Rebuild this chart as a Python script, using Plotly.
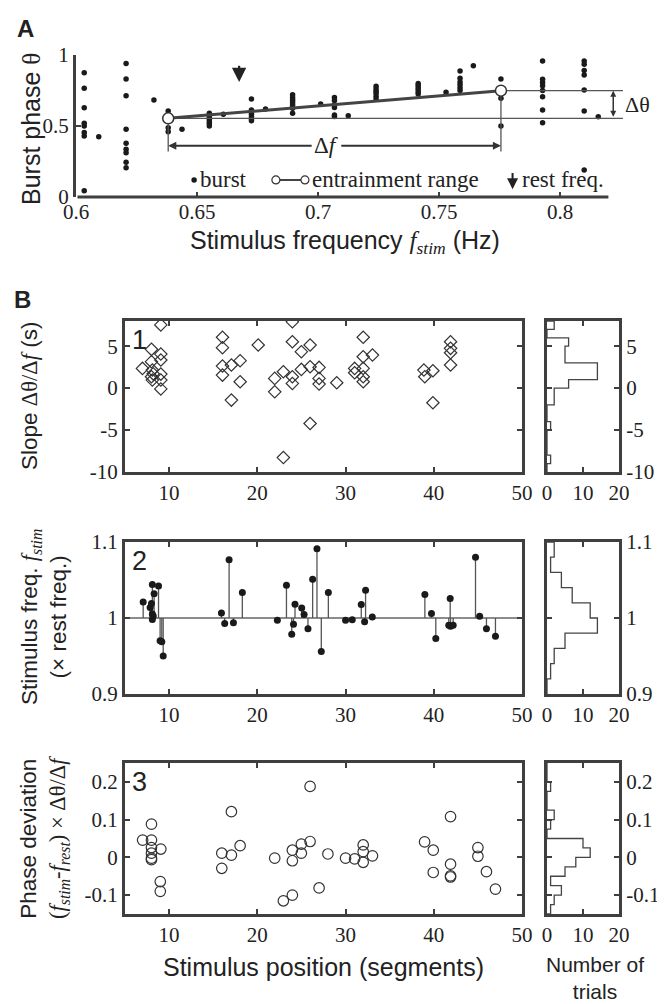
import plotly.graph_objects as go
import numpy as np

# page geometry: the browser body has an 8px margin, so the figure is sized to fit
PAGE_W, PAGE_H, BODY = 665, 1004, 8
W, H = PAGE_W - BODY, PAGE_H - BODY
SANS = "Liberation Sans, Arial, sans-serif"
SERIF = "Liberation Serif, Times New Roman, serif"
AX = "#3f3f3f"
INK = "#1a1a1a"
SER = "<span style='font-family:Liberation Serif'>"

# ---------------- Panel A data ----------------
burst_freq = ([0.6034] * 8 + [0.6094] + [0.6207] * 9 + [0.6322] + [0.6381] * 3 + [0.6438]
              + [0.6551] * 7 + [0.6609] + [0.6725] * 7 + [0.6783] + [0.6895] * 8 + [0.7011]
              + [0.7068] * 6 + [0.7125] + [0.724] * 6 + [0.7414] * 6 + [0.7529] + [0.7587] * 6
              + [0.7642] + [0.7756] * 3 + [0.7928] * 8 + [0.81] * 7 + [0.8158])
burst_phase = ([0.875, 0.765, 0.629, 0.519, 0.50, 0.455, 0.43, 0.044]
               + [0.425]
               + [0.941, 0.831, 0.713, 0.477, 0.378, 0.336, 0.312, 0.244, 0.206]
               + [0.683]
               + [0.606, 0.488, 0.46]
               + [0.477]
               + [0.59, 0.575, 0.56, 0.545, 0.53, 0.515, 0.50]
               + [0.582]
               + [0.69, 0.613, 0.598, 0.583, 0.566, 0.55, 0.537]
               + [0.62]
               + [0.72, 0.70, 0.685, 0.67, 0.655, 0.64, 0.625, 0.589]
               + [0.655]
               + [0.70, 0.68, 0.65, 0.63, 0.577, 0.567]
               + [0.573]
               + [0.78, 0.76, 0.745, 0.73, 0.71, 0.69]
               + [0.80, 0.785, 0.77, 0.755, 0.74, 0.725]
               + [0.737]
               + [0.887, 0.836, 0.81, 0.79, 0.77, 0.75]
               + [0.925]
               + [0.831, 0.695, 0.50]
               + [0.958, 0.83, 0.806, 0.783, 0.75, 0.706, 0.613, 0.523]
               + [0.958, 0.935, 0.89, 0.86, 0.754, 0.606, 0.19]
               + [0.566])
entrain_freq = [0.6381, 0.7756]
entrain_phase = [0.554, 0.749]
rest_freq = 0.6674
df_arrow_phase = 0.361
df_label_freq = 0.7035
drop_phase = 0.32
dtheta_line_end = 0.826
dtheta_arrow_freq = 0.822
a_axis_end = 0.82
a_xticks = [0.6, 0.65, 0.7, 0.75, 0.8]
a_yticks = [0, 0.5, 1]

# ---------------- Panel B1: slope ----------------
slope_pos = [6.98, 8.0, 8.0, 8.1, 8.0, 8.1, 8.2, 9.06, 9.06, 9.06, 9.06, 9.06, 9.06,
             16.05, 16.05, 16.05, 16.05, 17.06, 17.06, 18.05, 18.05, 20.1,
             21.97, 21.97, 22.95, 22.95, 23.97, 23.97, 23.97, 23.97, 24.99, 24.99,
             25.98, 25.98, 25.98, 27.0, 27.0, 27.0, 29.0,
             31.03, 31.03, 32.0, 32.0, 32.0, 32.0, 32.0, 33.05,
             38.88, 38.98, 39.9, 39.9, 41.9, 41.9, 41.9, 41.9]
slope_val = [2.35, 4.62, 3.15, 2.15, 1.35, 0.96, 1.7, 7.53, 4.06, 3.35, 1.67, 0.96, -0.1,
             6.06, 4.82, 2.63, 1.55, 2.75, -1.43, 3.27, 0.76, 5.14,
             1.16, -0.44, 1.95, -8.28, 7.9, 5.53, 1.35, 0.56, 4.34, 2.23,
             5.14, 2.55, -4.22, 2.47, 1.16, 0.48, 0.64,
             2.35, 1.83, 6.06, 3.74, 2.35, 1.35, 0.76, 3.94,
             2.15, 1.35, 2.07, -1.75, 5.53, 4.74, 4.22, 2.75]
slope_bin_edges = list(range(-10, 9))
slope_counts = [0, 1, 0, 0, 0, 1, 0, 0, 2, 2, 6, 14, 14, 5, 5, 6, 0, 2]

# ---------------- Panel B2: stimulus frequency ----------------
freq_pos = [7.06, 7.85, 8.0, 8.1, 8.3, 8.1, 8.2, 8.1, 8.8, 8.98, 9.17, 9.33,
            15.93, 16.3, 16.8, 17.29, 18.3,
            22.27, 23.3, 23.9, 24.1, 24.27, 25.03, 25.3, 25.74, 26.27, 26.76, 27.25, 28.05,
            30.0, 30.76, 31.78, 32.16, 32.27, 33.03,
            38.99, 39.74, 40.23, 41.86, 41.7, 41.9, 42.2, 44.73, 45.2, 45.97, 46.99]
freq_val = [1.021, 1.0137, 1.019, 1.044, 1.032, 1.0054, 1.0027, 0.998, 1.042, 0.970, 0.9687, 0.950,
            1.0066, 0.9926, 1.0768, 0.9937, 1.0334,
            0.997, 1.043, 0.9786, 0.9918, 1.018, 1.013, 1.0045, 0.986, 1.051, 1.091, 0.956, 1.0334,
            0.997, 0.9976, 1.0176, 0.9952, 1.0364, 1.0013,
            1.031, 1.0058, 0.973, 1.0255, 0.9904, 0.989, 0.9904, 1.080, 1.0022, 0.986, 0.976]
freq_baseline = 1.0
freq_bin_edges = [0.90, 0.92, 0.94, 0.96, 0.98, 1.00, 1.02, 1.04, 1.06, 1.08, 1.10]
freq_counts = [0, 1, 2, 5, 14, 12, 7, 4, 1, 2]

# ---------------- Panel B3: phase deviation ----------------
dev_pos = [7.0, 8.0, 8.0, 8.0, 8.0, 8.0, 8.0, 9.06, 9.0, 9.0,
           15.97, 15.97, 17.06, 17.06, 18.05,
           21.97, 22.95, 23.97, 23.97, 23.97, 24.99, 24.99, 25.98, 25.98, 27.0, 28.0,
           30.0, 31.03, 32.0, 32.0, 32.0, 33.05,
           38.96, 39.94, 39.94, 41.9, 41.9, 41.9, 41.9, 45.0, 45.0, 45.97, 46.99]
dev_val = [0.0458, 0.088, 0.0458, 0.026, 0.011, -0.002, -0.006, 0.022, -0.064, -0.09,
           -0.029, 0.011, 0.121, 0.006, 0.031,
           -0.002, -0.115, 0.019, -0.009, -0.1, 0.035, 0.011, 0.188, 0.042, -0.081, 0.009,
           -0.002, -0.004, 0.033, 0.015, -0.013, 0.004,
           0.041, 0.019, -0.04, 0.108, -0.018, -0.049, -0.052, 0.026, 0.003, -0.038, -0.084]
dev_bin_edges = [-0.15, -0.125, -0.1, -0.075, -0.05, -0.025, 0.0, 0.025, 0.05,
                 0.075, 0.1, 0.125, 0.15, 0.175, 0.2, 0.225, 0.25]
dev_counts = [1, 2, 4, 1, 5, 8, 12, 10, 0, 1, 2, 0, 0, 1, 0, 0]

# ---------------- layout geometry (page pixels -> paper) ----------------
def px_x(p):
    return (p - BODY) / W

def px_y(p):
    return 1 - (p - BODY) / H

A_RANGE = [0.6, 0.84]
A_X0, A_PX_PER = 76, 2420
A_DOM_X = [px_x(A_X0), px_x(A_X0 + (A_RANGE[1] - A_RANGE[0]) * A_PX_PER)]
A_DOM_Y = [px_y(197), px_y(55)]
B_MAIN_X = [px_x(125), px_x(522)]
B_HIST_X = [px_x(547), px_x(619)]
B_ROWS_Y = [[px_y(472), px_y(321)], [px_y(694), px_y(542)], [px_y(914), px_y(763)]]

fig = go.Figure()

# ---------------- Panel A traces ----------------
fig.add_trace(go.Scatter(x=burst_freq, y=burst_phase, mode="markers",
                         marker=dict(color=INK, size=5.5), xaxis="x", yaxis="y",
                         hoverinfo="skip"))
for f, th in zip(entrain_freq, entrain_phase):
    fig.add_trace(go.Scatter(x=[f, f], y=[th, drop_phase], mode="lines",
                             line=dict(color="#555", width=1.3), xaxis="x", yaxis="y"))
fig.add_trace(go.Scatter(x=[entrain_freq[0], dtheta_line_end], y=[entrain_phase[0]] * 2,
                         mode="lines", line=dict(color="#555", width=1.1), xaxis="x", yaxis="y"))
fig.add_trace(go.Scatter(x=[entrain_freq[1], dtheta_line_end], y=[entrain_phase[1]] * 2,
                         mode="lines", line=dict(color="#555", width=1.1), xaxis="x", yaxis="y"))
fig.add_trace(go.Scatter(x=entrain_freq, y=entrain_phase, mode="lines+markers",
                         line=dict(color="#444", width=3),
                         marker=dict(symbol="circle", size=11, color="white",
                                     line=dict(color="#333", width=1.5)),
                         xaxis="x", yaxis="y"))

# legend items in panel A
leg_y = 0.12
fig.add_trace(go.Scatter(x=[0.6488], y=[leg_y], mode="markers",
                         marker=dict(color=INK, size=5.5), xaxis="x", yaxis="y"))
fig.add_trace(go.Scatter(x=[0.6826, 0.6946], y=[leg_y, leg_y], mode="lines+markers",
                         line=dict(color="#444", width=2),
                         marker=dict(symbol="circle", size=8, color="white",
                                     line=dict(color="#333", width=1.2)),
                         xaxis="x", yaxis="y"))

# ---------------- Panel B traces ----------------
def hist_path(edges, counts):
    xs, ys = [0], [edges[0]]
    for i, c in enumerate(counts):
        xs += [c, c]
        ys += [edges[i], edges[i + 1]]
    xs.append(0)
    ys.append(edges[-1])
    return xs, ys

# B1
fig.add_trace(go.Scatter(x=slope_pos, y=slope_val, mode="markers",
                         marker=dict(symbol="diamond-open", size=9.5, color="#333",
                                     line=dict(width=1.2)),
                         xaxis="x2", yaxis="y2"))
hx, hy = hist_path(slope_bin_edges, slope_counts)
fig.add_trace(go.Scatter(x=hx, y=hy, mode="lines", line=dict(color="#444", width=1.3),
                         xaxis="x3", yaxis="y3"))

# B2
stem_x, stem_y = [], []
for p, v in zip(freq_pos, freq_val):
    stem_x += [p, p, None]
    stem_y += [freq_baseline, v, None]
fig.add_trace(go.Scatter(x=[5, 50], y=[freq_baseline, freq_baseline], mode="lines",
                         line=dict(color="#666", width=1.3), xaxis="x4", yaxis="y4"))
fig.add_trace(go.Scatter(x=stem_x, y=stem_y, mode="lines",
                         line=dict(color="#555", width=1.3), xaxis="x4", yaxis="y4"))
fig.add_trace(go.Scatter(x=freq_pos, y=freq_val, mode="markers",
                         marker=dict(color=INK, size=7), xaxis="x4", yaxis="y4"))
hx, hy = hist_path(freq_bin_edges, freq_counts)
fig.add_trace(go.Scatter(x=hx, y=hy, mode="lines", line=dict(color="#444", width=1.3),
                         xaxis="x5", yaxis="y5"))

# B3
fig.add_trace(go.Scatter(x=dev_pos, y=dev_val, mode="markers",
                         marker=dict(symbol="circle-open", size=10.5, color="#333",
                                     line=dict(width=1.2)),
                         xaxis="x6", yaxis="y6"))
hx, hy = hist_path(dev_bin_edges, dev_counts)
fig.add_trace(go.Scatter(x=hx, y=hy, mode="lines", line=dict(color="#444", width=1.3),
                         xaxis="x7", yaxis="y7"))

# ---------------- axes ----------------
tickfont = dict(family=SERIF, size=21, color="#222")
common = dict(showgrid=False, zeroline=False, ticks="inside", ticklen=5, tickwidth=2,
              tickcolor=AX, linecolor=AX, linewidth=3, tickfont=tickfont, automargin=False)

def fmt(v):
    return "%g" % v

layout = dict(
    width=W, height=H, margin=dict(l=0, r=0, t=0, b=0, autoexpand=False),
    paper_bgcolor="white", plot_bgcolor="white", showlegend=False,
    xaxis=dict(domain=A_DOM_X, range=A_RANGE, anchor="y", showline=False,
               tickvals=a_xticks, ticktext=[fmt(v) for v in a_xticks],
               **{k: v for k, v in common.items() if k not in ("linecolor", "linewidth")}),
    yaxis=dict(domain=A_DOM_Y, range=[0, 1], anchor="x", showline=True,
               tickvals=a_yticks, ticktext=[fmt(v) for v in a_yticks], **common),
)

b_ranges = [[-10, 8], [0.9, 1.1], [-0.15, 0.25]]
b_ticks = [[-10, -5, 0, 5], [0.9, 1.0, 1.1], [-0.1, 0, 0.1, 0.2]]
pos_ticks = [10, 20, 30, 40, 50]
hist_ticks = [0, 10, 20]
for r in range(3):
    im, ih = 2 + 2 * r, 3 + 2 * r
    layout["xaxis%d" % im] = dict(domain=B_MAIN_X, range=[5, 50], anchor="y%d" % im,
                                  showline=True, mirror="ticks", tickvals=pos_ticks,
                                  ticktext=[str(v) for v in pos_ticks], **common)
    layout["yaxis%d" % im] = dict(domain=B_ROWS_Y[r], range=b_ranges[r], anchor="x%d" % im,
                                  showline=True, mirror="ticks", tickvals=b_ticks[r],
                                  ticktext=[fmt(v) for v in b_ticks[r]], **common)
    layout["xaxis%d" % ih] = dict(domain=B_HIST_X, range=[0, 20], anchor="y%d" % ih,
                                  showline=True, mirror="ticks", tickvals=hist_ticks,
                                  ticktext=[str(v) for v in hist_ticks], **common)
    layout["yaxis%d" % ih] = dict(domain=B_ROWS_Y[r], range=b_ranges[r], anchor="x%d" % ih,
                                  side="right", showline=True, mirror="ticks",
                                  tickvals=b_ticks[r], ticktext=[fmt(v) for v in b_ticks[r]],
                                  **common)
fig.update_layout(**layout)

# ---------------- annotations ----------------
ann = []

def ptext(x, y, s, size, family=SANS, angle=0):
    ann.append(dict(x=px_x(x), y=px_y(y), xref="paper", yref="paper", text=s,
                    showarrow=False, textangle=angle, xanchor="center", yanchor="middle",
                    font=dict(family=family, size=size, color="#222")))

def arrow(x, y, ax, ay, head=2, size=1.0, width=2.0, color="#222", side="end"):
    ann.append(dict(x=x, y=y, ax=ax, ay=ay, xref="x", yref="y", axref="x", ayref="y",
                    text="", showarrow=True, arrowhead=head, arrowsize=size,
                    arrowwidth=width, arrowcolor=color, arrowside=side,
                    startarrowhead=head, startarrowsize=size, standoff=0, startstandoff=0))

def dtext(x, y, s, size, xanchor="center", family=SERIF):
    ann.append(dict(x=x, y=y, xref="x", yref="y", xanchor=xanchor, yanchor="middle",
                    showarrow=False, text=s, font=dict(family=family, size=size, color="#222")))

# panel letters
ptext(25, 28, "<b>A</b>", 24)
ptext(22, 299, "<b>B</b>", 24)

# Panel A axis baseline (ends at 0.82 like the original)
arrow(a_axis_end, 0, A_RANGE[0], 0, head=0, width=3, color=AX)
# rest frequency arrow
arrow(rest_freq, 0.81, rest_freq, 0.935, head=2, size=1.3, width=2.2)
# delta f arrows
arrow(entrain_freq[0], df_arrow_phase, df_label_freq - 0.0055, df_arrow_phase,
      head=2, size=0.9, width=1.8, color="#333")
arrow(entrain_freq[1], df_arrow_phase, df_label_freq + 0.0055, df_arrow_phase,
      head=2, size=0.9, width=1.8, color="#333")
dtext(df_label_freq, df_arrow_phase, "Δ<i>f</i>", 23)
# delta theta double arrow
arrow(dtheta_arrow_freq, entrain_phase[1], dtheta_arrow_freq, entrain_phase[0],
      head=2, size=0.8, width=1.5, color="#333", side="end+start")
dtext(0.8262, (entrain_phase[0] + entrain_phase[1]) / 2, "Δθ", 22, xanchor="left")
# legend texts
dtext(0.6505, leg_y, "burst", 23, xanchor="left")
dtext(0.6965, leg_y, "entrainment range", 23, xanchor="left")
arrow(0.7804, 0.055, 0.7804, 0.18, head=2, size=1.1, width=2.0)
dtext(0.7835, leg_y, "rest freq.", 23, xanchor="left")

# axis titles
ptext(345, 242, "Stimulus frequency " + SER + "<i>f</i><sub><i>stim</i></sub></span> (Hz)", 25)
ptext(31, 129, "Burst phase " + SER + "θ</span>", 25, angle=-90)
ptext(30, 396, "Slope " + SER + "Δθ/Δ<i>f</i></span> (s)", 22.5, angle=-90)
ptext(44, 617, "Stimulus freq. " + SER + "<i>f</i><sub><i>stim</i></sub></span><br>(× rest freq.)",
      22.5, angle=-90)
ptext(44, 838, "Phase deviation<br>" + SER + "(<i>f</i><sub><i>stim</i></sub>-<i>f</i><sub><i>rest</i></sub>) × Δθ/Δ<i>f</i></span>",
      22.5, angle=-90)
ptext(323, 967, "Stimulus position (segments)", 25)
ptext(595, 978, "Number of<br>trials", 21)

# subpanel numbers
for r, lab in enumerate(["1", "2", "3"]):
    im = 2 + 2 * r
    ann.append(dict(x=0.012, y=0.985, xref="x%d domain" % im, yref="y%d domain" % im,
                    xanchor="left", yanchor="top", showarrow=False, text=lab,
                    font=dict(family=SANS, size=27, color="#222")))

fig.update_layout(annotations=ann)
fig.write_html("out.html")
